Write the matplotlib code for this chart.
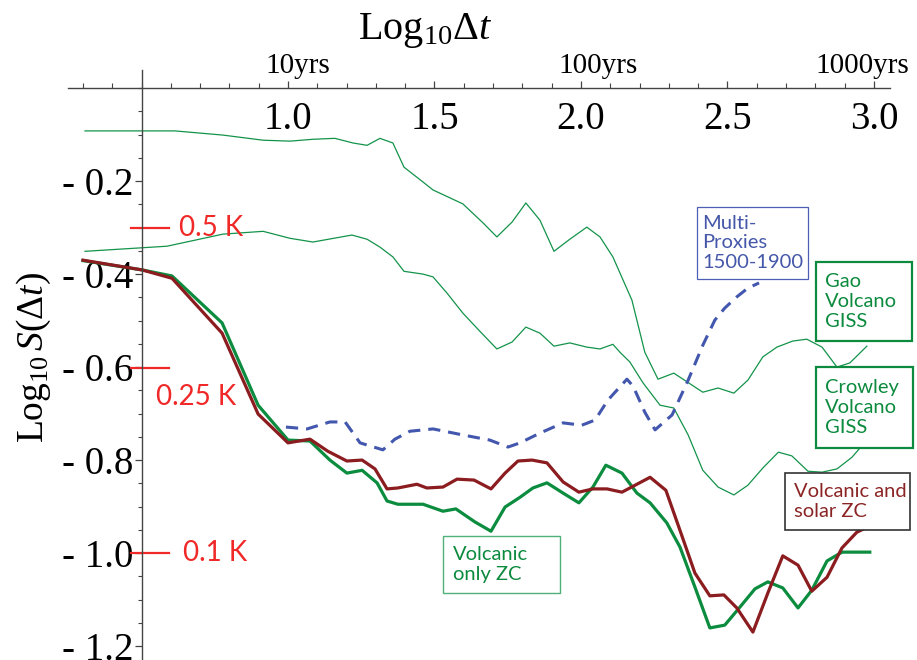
import matplotlib
matplotlib.use("Agg")
import matplotlib.pyplot as plt
from matplotlib.patches import Rectangle
from matplotlib.ticker import FixedLocator, FixedFormatter, MultipleLocator

plt.rcParams['mathtext.fontset'] = 'custom'
plt.rcParams['mathtext.rm'] = 'Liberation Serif'
plt.rcParams['mathtext.it'] = 'Liberation Serif:italic'

# log10(dt) / log10 S(dt) values
volc_x = [0.300, 0.502, 0.604, 0.775, 0.898, 1.000, 1.075, 1.143, 1.201, 1.253,
          1.304, 1.338, 1.375, 1.461, 1.529, 1.573, 1.638, 1.693, 1.741, 1.792,
          1.836, 1.884, 1.939, 1.993, 2.041, 2.085, 2.140, 2.191, 2.236, 2.293,
          2.338, 2.389, 2.440, 2.491, 2.543, 2.594, 2.638, 2.689, 2.741, 2.788,
          2.840, 2.891, 2.986]
volc_y = [-0.371, -0.391, -0.404, -0.505, -0.682, -0.757, -0.759, -0.800, -0.828, -0.822,
          -0.849, -0.888, -0.895, -0.895, -0.910, -0.905, -0.933, -0.953, -0.901, -0.880,
          -0.860, -0.849, -0.871, -0.892, -0.858, -0.811, -0.828, -0.871, -0.892, -0.935,
          -0.987, -1.073, -1.161, -1.155, -1.116, -1.077, -1.062, -1.075, -1.118, -1.080,
          -1.017, -0.998, -0.998]

solar_x = [0.300, 0.502, 0.604, 0.775, 0.898, 1.000, 1.075, 1.136, 1.201, 1.253,
           1.297, 1.338, 1.375, 1.440, 1.474, 1.529, 1.577, 1.635, 1.693, 1.741,
           1.785, 1.833, 1.884, 1.939, 1.993, 2.041, 2.089, 2.140, 2.236, 2.290,
           2.338, 2.389, 2.440, 2.488, 2.532, 2.587, 2.638, 2.689, 2.741, 2.788,
           2.840, 2.891, 2.942, 2.986]
solar_y = [-0.370, -0.391, -0.409, -0.527, -0.701, -0.763, -0.755, -0.781, -0.802, -0.800,
           -0.819, -0.862, -0.860, -0.852, -0.860, -0.858, -0.841, -0.843, -0.862, -0.828,
           -0.802, -0.800, -0.806, -0.847, -0.869, -0.862, -0.862, -0.869, -0.837, -0.865,
           -0.951, -1.043, -1.092, -1.090, -1.118, -1.170, -1.086, -1.006, -1.026, -1.082,
           -1.052, -0.989, -0.955, -0.942]

proxy_x = [0.993, 1.065, 1.143, 1.195, 1.246, 1.324, 1.365, 1.416, 1.495, 1.597,
           1.689, 1.751, 1.792, 1.860, 1.939, 2.003, 2.048, 2.092, 2.157, 2.178,
           2.218, 2.253, 2.311, 2.366, 2.416, 2.457, 2.491, 2.532, 2.570, 2.608]
proxy_y = [-0.729, -0.733, -0.718, -0.718, -0.763, -0.778, -0.755, -0.738, -0.733, -0.746,
           -0.757, -0.772, -0.763, -0.742, -0.720, -0.725, -0.714, -0.671, -0.626, -0.641,
           -0.697, -0.735, -0.703, -0.628, -0.553, -0.499, -0.473, -0.449, -0.430, -0.419]

gao_x = [0.307, 0.614, 0.778, 0.915, 1.007, 1.085, 1.160, 1.222, 1.270, 1.314,
         1.358, 1.396, 1.461, 1.495, 1.597, 1.666, 1.713, 1.765, 1.812, 1.860,
         1.908, 1.962, 2.020, 2.065, 2.109, 2.174, 2.218, 2.263, 2.317, 2.416,
         2.468, 2.522, 2.570, 2.621, 2.669, 2.723, 2.771, 2.823, 2.874, 2.918, 2.976]
gao_y = [-0.092, -0.092, -0.101, -0.112, -0.114, -0.110, -0.108, -0.118, -0.123, -0.108,
         -0.118, -0.170, -0.202, -0.219, -0.249, -0.290, -0.320, -0.288, -0.247, -0.284,
         -0.351, -0.325, -0.299, -0.320, -0.363, -0.456, -0.568, -0.626, -0.613, -0.654,
         -0.645, -0.656, -0.628, -0.578, -0.557, -0.544, -0.540, -0.557, -0.600, -0.591, -0.555]

crowley_x = [0.307, 0.587, 0.778, 0.915, 1.007, 1.085, 1.218, 1.270, 1.314, 1.358,
             1.396, 1.461, 1.495, 1.543, 1.597, 1.655, 1.713, 1.765, 1.812, 1.860,
             1.908, 1.962, 2.020, 2.065, 2.109, 2.133, 2.167, 2.212, 2.270, 2.317,
             2.366, 2.416, 2.468, 2.522, 2.570, 2.621, 2.674, 2.720, 2.775, 2.823,
             2.874, 2.925, 2.976]
crowley_y = [-0.351, -0.340, -0.314, -0.308, -0.323, -0.331, -0.316, -0.325, -0.342, -0.363,
             -0.394, -0.400, -0.406, -0.441, -0.484, -0.523, -0.561, -0.546, -0.514, -0.527,
             -0.555, -0.548, -0.557, -0.561, -0.551, -0.568, -0.589, -0.634, -0.682, -0.688,
             -0.746, -0.822, -0.858, -0.875, -0.854, -0.817, -0.783, -0.791, -0.824, -0.826,
             -0.819, -0.794, -0.757]

x_ticks = [1.0, 1.5, 2.0, 2.5, 3.0]
y_ticks = [-0.2, -0.4, -0.6, -0.8, -1.0, -1.2]
y_tick_labels = ["- 0.2", "- 0.4", "- 0.6", "- 0.8", "- 1.0", "- 1.2"]
kelvin_levels = [-0.301, -0.602, -1.0]
kelvin_labels = ["0.5 K", "0.25 K", "0.1 K"]

W, H = 917, 660
fig = plt.figure(figsize=(W / 100, H / 100), dpi=100)


def fx(px):
    return px / W


def fy(py):
    return 1 - py / H


ax = fig.add_axes([fx(68), 0.0, fx(890) - fx(68), fy(70)])
ax.set_xlim(0.249, 3.055)
ax.set_ylim(-1.230, 0.039)

green_thin = '#13934a'
green = '#0b8c3e'
dred = '#8b1c1f'
blue = '#4257ad'

ax.plot(gao_x, gao_y, color=green_thin, lw=0.9)
ax.plot(crowley_x, crowley_y, color=green_thin, lw=0.9)
ax.plot(proxy_x, proxy_y, color=blue, lw=2.2, dashes=(4, 2.6))
ax.plot(volc_x, volc_y, color=green, lw=2.3)
ax.plot(solar_x, solar_y, color=dred, lw=2.3)

# Mathematica-like axes crossing at (0.5, 0)
for s in ['top', 'right']:
    ax.spines[s].set_visible(False)
ax.spines['bottom'].set_position(('data', 0))
ax.spines['left'].set_position(('data', 0.5))
for s in ['bottom', 'left']:
    ax.spines[s].set_color('#444444')
    ax.spines[s].set_linewidth(1.0)

ax.xaxis.set_major_locator(FixedLocator(x_ticks))
ax.xaxis.set_minor_locator(MultipleLocator(0.1))
ax.tick_params(axis='x', which='major', direction='in', length=5, width=0.9,
               colors='#444444', labelcolor='black', pad=9)
ax.tick_params(axis='x', which='minor', direction='in', length=3.5, width=0.8, colors='#444444')
for lab in ax.get_xticklabels():
    lab.set_fontfamily('Liberation Serif')
    lab.set_fontsize(28)

ax.yaxis.set_major_locator(FixedLocator(y_ticks))
ax.yaxis.set_major_formatter(FixedFormatter(y_tick_labels))
ax.yaxis.set_minor_locator(MultipleLocator(0.05))
ax.tick_params(axis='y', which='major', direction='out', length=5, width=0.9,
               colors='#444444', labelcolor='black', pad=1)
ax.tick_params(axis='y', which='minor', direction='out', length=3, width=0.8, colors='#444444')
for lab in ax.get_yticklabels():
    lab.set_fontfamily('Liberation Serif')
    lab.set_fontsize(28)

# red kelvin markers
kred = '#f02828'
for lev in kelvin_levels:
    ax.plot([0.464, 0.594], [lev, lev], color=kred, lw=1.6, clip_on=False)
ax.text(0.628, kelvin_levels[0], kelvin_labels[0], color=kred, fontsize=20,
        family='Lato', va='center', ha='left')
ax.text(0.550, kelvin_levels[1] - 0.062, kelvin_labels[1], color=kred, fontsize=20,
        family='Lato', va='center', ha='left')
ax.text(0.640, kelvin_levels[2], kelvin_labels[2], color=kred, fontsize=20,
        family='Lato', va='center', ha='left')

# titles
fig.text(fx(425), fy(30), r"Log$_{10}\Delta t$", fontsize=29, family='Liberation Serif',
         ha='center', va='center')
fig.text(fx(34), fy(357), r"Log$_{10}\,\mathit{S}(\mathit{\Delta t})$", fontsize=27,
         family='Liberation Serif', rotation=90, ha='center', va='center')
for px, lab in [(298, "10yrs"), (598, "100yrs"), (862, "1000yrs")]:
    fig.text(fx(px), fy(66), lab, fontsize=21, family='Liberation Serif',
             ha='center', va='center')


def label_box(x0, y0, x1, y1, text, tcolor, ecolor, lw, tx):
    fig.add_artist(Rectangle((fx(x0), fy(y1)), fx(x1) - fx(x0), fy(y0) - fy(y1),
                             transform=fig.transFigure, facecolor='white',
                             edgecolor=ecolor, linewidth=lw, zorder=5))
    fig.text(fx(tx), fy((y0 + y1) / 2), text, color=tcolor, fontsize=14.5, family='Lato',
             ha='left', va='center', linespacing=1.2, zorder=6)


label_box(697, 207, 808, 279, "Multi-\nProxies\n1500-1900", '#4457a8', '#4d5fb5', 0.9, 702)
label_box(816, 262, 912, 341, "Gao\nVolcano\nGISS", '#0c8a3e', '#0c8a3e', 1.6, 825)
label_box(816, 367, 913, 448, "Crowley\nVolcano\nGISS", '#0c8a3e', '#0c8a3e', 1.6, 825)
label_box(785, 473, 910, 530, "Volcanic and\nsolar ZC", '#8b2525', '#333333', 1.2, 794)
label_box(443, 536, 560, 593, "Volcanic\nonly ZC", '#0c8a3e', '#4fb07a', 1.0, 453)

fig.savefig("out.png", dpi=100)
